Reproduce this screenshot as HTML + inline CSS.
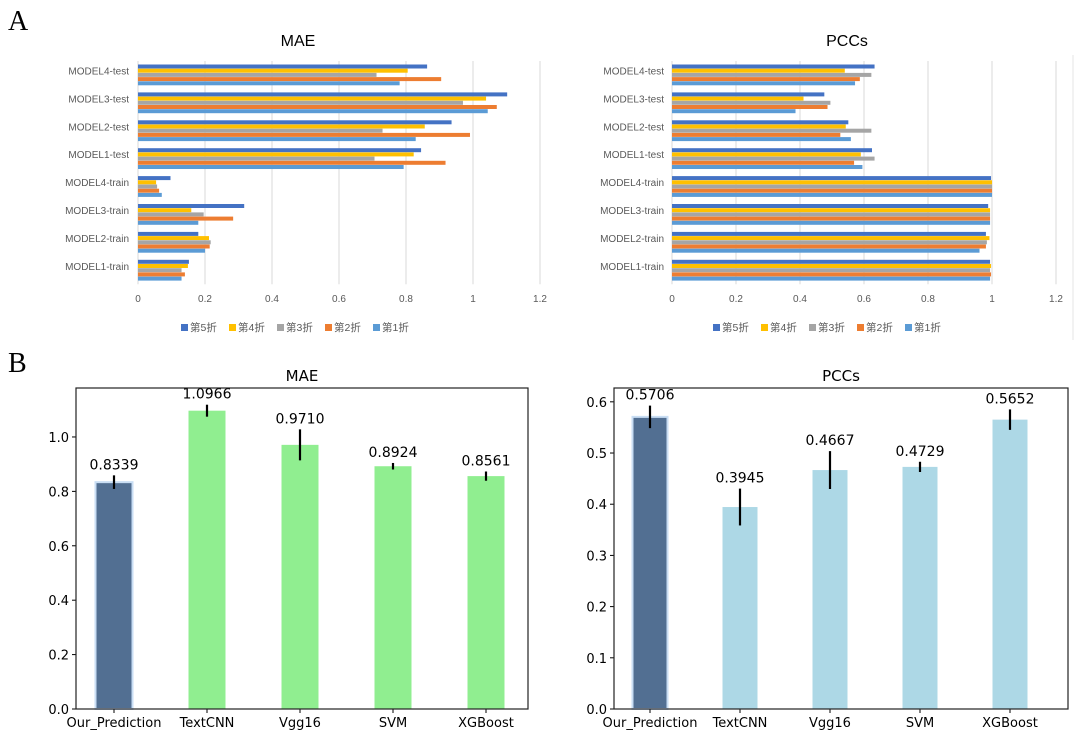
<!DOCTYPE html>
<html><head><meta charset="utf-8"><style>
html,body{margin:0;padding:0;background:#fff;}
svg{display:block;}
</style></head><body>
<svg id="fig" width="1080" height="744" viewBox="0 0 1080 744" xmlns="http://www.w3.org/2000/svg">
<text x="8" y="30" font-family="Liberation Serif, serif" font-size="28">A</text>
<text x="8" y="372" font-family="Liberation Serif, serif" font-size="28">B</text>
<line x1="1073" y1="55" x2="1073" y2="340" stroke="#e6e6e6" stroke-width="1"/>
<g id="g1"></g>
<g id="g2"></g>
<g id="g3"></g>
<g id="g4"></g>
</svg>
<script>
const foldCategories = ["MODEL4-test","MODEL3-test","MODEL2-test","MODEL1-test","MODEL4-train","MODEL3-train","MODEL2-train","MODEL1-train"];
const foldNames = ["第5折","第4折","第3折","第2折","第1折"];
const foldColors = ["#4472C4","#FFC000","#A5A5A5","#ED7D31","#5B9BD5"];
// MAE values per category, order: fold5, fold4, fold3, fold2, fold1
const maeFold5 = [0.863,1.102,0.936,0.845,0.097,0.317,0.180,0.152];
const maeFold4 = [0.805,1.039,0.856,0.823,0.054,0.159,0.212,0.149];
const maeFold3 = [0.712,0.970,0.730,0.706,0.057,0.196,0.217,0.130];
const maeFold2 = [0.905,1.071,0.991,0.918,0.063,0.284,0.214,0.140];
const maeFold1 = [0.781,1.044,0.829,0.793,0.071,0.180,0.200,0.130];
const pccFold5 = [0.633,0.476,0.551,0.625,0.997,0.988,0.981,0.994];
const pccFold4 = [0.540,0.411,0.543,0.590,1.000,0.994,0.992,0.997];
const pccFold3 = [0.623,0.495,0.623,0.633,1.000,0.994,0.984,0.994];
const pccFold2 = [0.587,0.486,0.526,0.569,1.000,0.994,0.981,0.997];
const pccFold1 = [0.572,0.386,0.559,0.595,1.000,0.994,0.961,0.994];
const foldTicks = ["0","0.2","0.4","0.6","0.8","1","1.2"];
const foldTickVals = [0,0.2,0.4,0.6,0.8,1,1.2];

const modelNames = ["Our_Prediction","TextCNN","Vgg16","SVM","XGBoost"];
const maeMeans = [0.8339,1.0966,0.9710,0.8924,0.8561];
const maeErr = [0.025,0.022,0.057,0.012,0.017];
const maeLabels = ["0.8339","1.0966","0.9710","0.8924","0.8561"];
const maeTicks = [0,0.2,0.4,0.6,0.8,1.0];
const pccMeans = [0.5706,0.3945,0.4667,0.4729,0.5652];
const pccErr = [0.022,0.036,0.037,0.010,0.020];
const pccLabels = ["0.5706","0.3945","0.4667","0.4729","0.5652"];
const pccTicks = [0,0.1,0.2,0.3,0.4,0.5,0.6];

const NS="http://www.w3.org/2000/svg";
function mk(parent,tag,attrs,text){const e=document.createElementNS(NS,tag);for(const k in attrs)e.setAttribute(k,attrs[k]);if(text!==undefined)e.textContent=text;parent.appendChild(e);return e;}

function foldChart(g,title,series,x0,x1,titleX,catLabelRight,legendX){
  const xs=v=>x0+v/1.2*(x1-x0);
  const top=61,catH=27.9;
  const t=mk(g,'text',{x:titleX,y:46,'font-family':'Liberation Sans, sans-serif','font-size':16,'text-anchor':'middle',fill:'#000'},title);
  
  
  foldTickVals.forEach((v,i)=>{
    const l=mk(g,'line',{x1:xs(v),x2:xs(v),y1:top,y2:top+catH*8,stroke:'#d9d9d9','stroke-width':1});
    
    
    const tx=mk(g,'text',{x:xs(v),y:302,'font-family':'Liberation Sans, sans-serif','font-size':10,'text-anchor':'middle',fill:'#595959'},foldTicks[i]);
    
    
  });
  foldCategories.forEach((c,ci)=>{
    const y0=top+ci*catH+3.5;
    const tl=mk(g,'text',{x:catLabelRight,y:top+ci*catH+13.5,'font-family':'Liberation Sans, sans-serif','font-size':10,'text-anchor':'end',fill:'#595959'},c);
    
    
    series.forEach((s,si)=>{
      const r=mk(g,'rect',{x:x0,y:y0+si*4.2,width:Math.max(0,xs(s[ci])-x0),height:4,fill:foldColors[si]});
      
      
    });
  });
  foldNames.forEach((n,i)=>{
    const lx=legendX+i*48;
    const sq=mk(g,'rect',{x:lx,y:324,width:7,height:7,fill:foldColors[i]});
    
    
    const lt=mk(g,'text',{x:lx+9,y:331,'font-family':'Liberation Sans, Noto Sans CJK SC, sans-serif','font-size':10.5,fill:'#595959'},n);
    
    
  });
}
foldChart(document.getElementById('g1'),'MAE',[maeFold5,maeFold4,maeFold3,maeFold2,maeFold1],138,540,298,129,181);
foldChart(document.getElementById('g2'),'PCCs',[pccFold5,pccFold4,pccFold3,pccFold2,pccFold1],672,1056,847,664,713);

function modelChart(g,title,means,errs,labels,ticks,yMax,L,R,c0,step,bw,barColor,tickFmt){
  const T=388,B=709;
  const ys=v=>B-v/yMax*(B-T);
  const tt=mk(g,'text',{x:(L+R)/2,y:381,'font-family':'DejaVu Sans, sans-serif','font-size':15,'text-anchor':'middle',fill:'#000'},title);
  
  
  means.forEach((m,i)=>{
    const cx=c0+i*step;
    const first=i===0;
    const r=mk(g,'rect',{x:cx-bw/2,y:ys(m),width:bw,height:B-ys(m),fill:first?'#526f92':barColor,stroke:first?'#c9def4':'none','stroke-width':first?2:0});
    
    
    const e=mk(g,'line',{x1:cx,x2:cx,y1:ys(m+errs[i]),y2:ys(m-errs[i]),stroke:'#000','stroke-width':2.2});
    
    
    const vl=mk(g,'text',{x:cx,y:ys(m+errs[i])-6,'font-family':'DejaVu Sans, sans-serif','font-size':14,'text-anchor':'middle',fill:'#000'},labels[i]);
    
    
    const tk=mk(g,'line',{x1:cx,x2:cx,y1:B,y2:B+4,stroke:'#000','stroke-width':1});
    
    
    const xl=mk(g,'text',{x:cx,y:B+18,'font-family':'DejaVu Sans, sans-serif','font-size':13,'text-anchor':'middle',fill:'#000'},modelNames[i]);
    
    
  });
  ticks.forEach(v=>{
    const tk=mk(g,'line',{x1:L-4,x2:L,y1:ys(v),y2:ys(v),stroke:'#000','stroke-width':1});
    
    
    const yl=mk(g,'text',{x:L-7,y:ys(v)+5,'font-family':'DejaVu Sans, sans-serif','font-size':13,'text-anchor':'end',fill:'#000'},v.toFixed(1));
    
    
  });
  const fr=mk(g,'rect',{x:L,y:T,width:R-L,height:B-T,fill:'none',stroke:'#222','stroke-width':1.2});
  
  
}
modelChart(document.getElementById('g3'),'MAE',maeMeans,maeErr,maeLabels,maeTicks,1.18,76,528,114,93,37,'#90ee90');
modelChart(document.getElementById('g4'),'PCCs',pccMeans,pccErr,pccLabels,pccTicks,0.627,614,1068,650,90,35,'#add8e6');
</script>
</body></html>
